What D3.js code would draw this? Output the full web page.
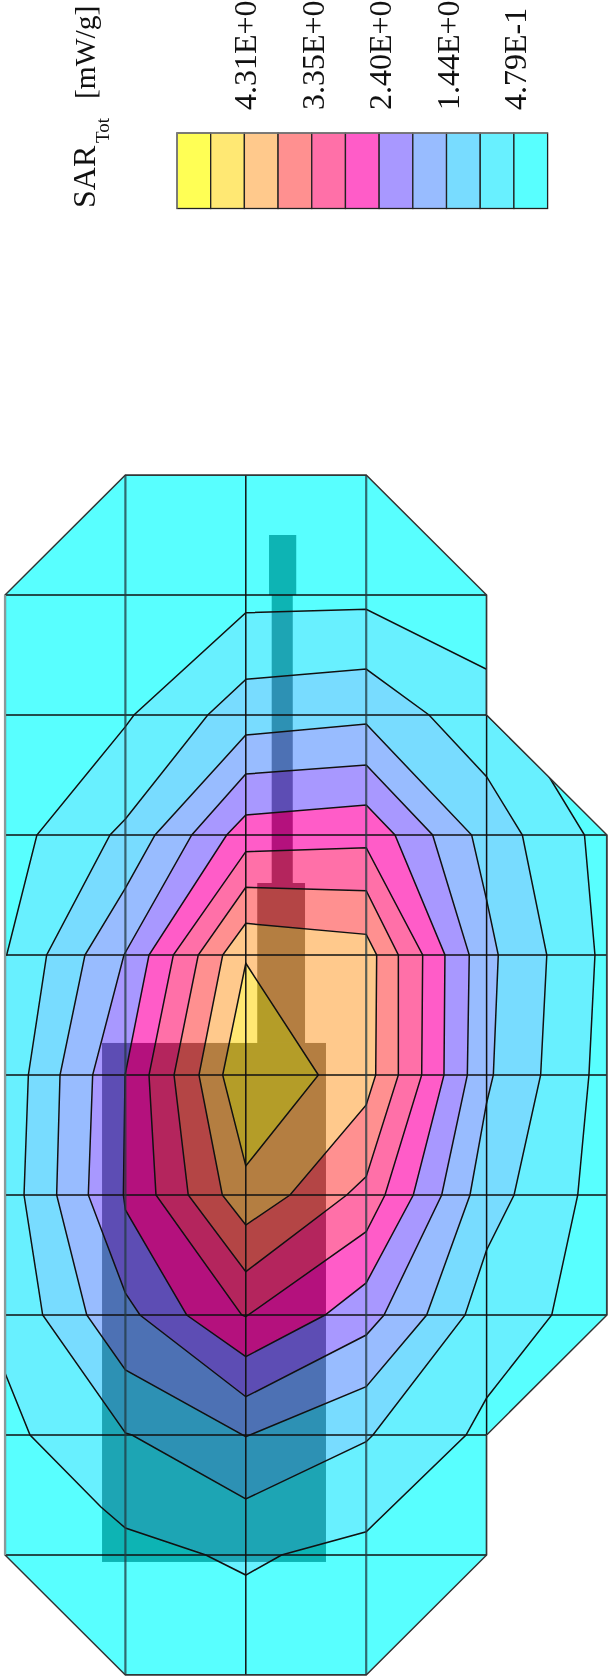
<!DOCTYPE html>
<html>
<head>
<meta charset="utf-8">
<script src="https://cdn.jsdelivr.net/npm/d3@7"></script>
<style>
  body { margin: 0; background: #fff; }
  text { font-family: "Liberation Serif", serif; fill: #111; }
</style>
</head>
<body>
<script>
// Colores de la leyenda, de mayor a menor SAR
const coloresLeyenda = ["#ffff55", "#ffe873", "#ffc98c", "#ff9090", "#ff70a8", "#ff5cc8",
  "#a898ff", "#98bcff", "#78dcff", "#68f0ff", "#58ffff"];
const etiquetasLeyenda = ["4.31E+0", "3.35E+0", "2.40E+0", "1.44E+0", "4.79E-1"];
const corteEtiquetas = [2, 4, 6, 8, 10];

// Malla de medida: columnas 0..5, filas 0..10
const columnas = [0, 1, 2, 3, 4, 5];
const filas = [0, 1, 2, 3, 4, 5, 6, 7, 8, 9, 10];

// Contorno exterior de la zona medida
const dominio = [[1, 0], [3, 0], [4, 1], [4, 2], [5, 3], [5, 7], [4, 8], [4, 9], [3, 10], [1, 10], [0, 9], [0, 1]];

// Isolíneas, de afuera hacia adentro, en unidades de la malla
const isoA = [[2, 1.148], [3, 1.119], [4, 1.619], [4, 2], [4.51, 2.5], [4.813, 3], [4.9, 4], [4.85, 5], [4.757, 6], [4.541, 7],
  [4, 7.692], [3.829, 8], [3, 8.806], [2.297, 9], [2, 9.167], [1.668, 9], [1, 8.775], [0.797, 8.6], [0.208, 8], [0, 7.483],
  [0, 4], [0.014, 4], [0.265, 3], [1, 2.097], [1.071, 2]];
const isoB = [[2, 1.703], [3, 1.617], [3.522, 2], [4, 2.514], [4.297, 3], [4.5, 4], [4.449, 5], [4.228, 6], [4, 6.458], [3.821, 7],
  [3.056, 8], [3, 8.056], [2, 8.533], [1.055, 8], [1, 7.983], [0.313, 7], [0.158, 6], [0.194, 5], [0.346, 4], [0.872, 3],
  [1, 2.867], [1.684, 2]];
const isoC = [[2, 2.167], [3, 2.075], [3.876, 3], [4, 3.54], [4.097, 4], [4.056, 5], [4, 5.233], [3.862, 6], [3.502, 7], [3, 7.597],
  [2, 8.014], [1, 7.458], [0.679, 7], [0.429, 6], [0.457, 5], [0.664, 4], [1, 3.442], [1.246, 3]];
const isoD = [[2, 2.492], [3, 2.417], [3.552, 3], [3.856, 4], [3.84, 5], [3.627, 6], [3.148, 7], [3, 7.167], [2, 7.681], [1.121, 7],
  [1, 6.817], [0.692, 6], [0.728, 5], [0.988, 4], [1.551, 3]];
const isoE = [[2, 2.833], [3, 2.75], [3.239, 3], [3.654, 4], [3.646, 5], [3.391, 6], [3, 6.733], [2.658, 7], [2, 7.347], [1.509, 7],
  [1, 6.125], [0.983, 6], [0.997, 5], [1.196, 4], [1.841, 3]];
const isoF = [[2, 3.139], [3, 3.106], [3.469, 4], [3.461, 5], [3.156, 6], [3, 6.306], [2, 7.014], [1.966, 7], [1.254, 6], [1.196, 5], [1.398, 4]];
const isoG = [[2, 3.436], [3, 3.464], [3.267, 4], [3.267, 5], [3, 5.847], [2.838, 6], [2, 6.639], [1.522, 6], [1.404, 5], [1.605, 4]];
const isoH = [[2, 3.736], [3, 3.828], [3.087, 4], [3.079, 5], [3, 5.25], [2.367, 6], [2, 6.25], [1.805, 6], [1.611, 5], [1.808, 4]];
const isoI = [[2, 4.069], [2.603, 5], [2, 5.758], [1.808, 5]];

// Cada isolínea va con el color que rellena su interior
const isolineas = [isoA, isoB, isoC, isoD, isoE, isoF, isoG, isoH, isoI];
const coloresIso = ["#68f0ff", "#78dcff", "#98bcff", "#a898ff", "#ff5cc8", "#ff70a8", "#ff9090", "#ffc98c", "#ffe873"];

// Placa superpuesta: [x0, x1, y0, y1] en unidades de la malla
const placa = [[2.193, 2.419, 0.5, 1], [2.215, 2.39, 1, 3.4], [2.095, 2.492, 3.4, 4.733], [0.806, 2.666, 4.733, 9.058]];

const svg = d3.select("body").append("svg").attr("width", 609).attr("height", 1679)
  .style("display", "block").style("filter", "blur(0.45px)");

const x = d3.scaleLinear().domain([0, 5]).range([5, 607]);
const y = d3.scaleLinear().domain([0, 10]).range([475, 1675]);
const linea = d3.line().x((d) => x(d[0])).y((d) => y(d[1])).curve(d3.curveLinearClosed);

// Leyenda
const xLeyenda = d3.scaleBand().domain(d3.range(coloresLeyenda.length)).range([177, 547.6]);
const leyenda = svg.append("g");
leyenda.selectAll("rect").data(coloresLeyenda).join("rect")
  .attr("x", (_, i) => xLeyenda(i))
  .attr("y", 133)
  .attr("width", xLeyenda.bandwidth())
  .attr("height", 75.5)
  .attr("fill", (d) => d)
  .attr("stroke", "#222")
  .attr("stroke-width", 1.3);

// Los bordes superior e izquierdo de la leyenda son más claros
leyenda.append("path")
  .attr("d", `M${xLeyenda(0)},208.5V133H547.6`)
  .attr("fill", "none")
  .attr("stroke", "#808080")
  .attr("stroke-width", 1.6);

leyenda.selectAll("text").data(etiquetasLeyenda).join("text")
  .attr("transform", (_, i) => `translate(${xLeyenda(corteEtiquetas[i]) + 12},110) rotate(-90)`)
  .attr("font-size", 32)
  .text((d) => d);

// Título rotado
const titulo = svg.append("g").attr("transform", "translate(95,208) rotate(-90)");
titulo.append("text").attr("font-size", 32).text("SAR");
titulo.append("text").attr("x", 65).attr("y", 14).attr("font-size", 19).text("Tot");
titulo.append("text").attr("x", 109).attr("font-size", 29.5).text("[mW/g]");

// Mapa: rellenos recortados al dominio
svg.append("clipPath").attr("id", "recorte").append("path").attr("d", linea(dominio));
const mapa = svg.append("g").style("isolation", "isolate");
mapa.append("path").attr("d", linea(dominio)).attr("fill", coloresLeyenda[10]);
const rellenos = mapa.append("g").attr("clip-path", "url(#recorte)");
rellenos.selectAll("path").data(isolineas).join("path")
  .attr("d", (d) => linea(d))
  .attr("fill", (_, i) => coloresIso[i]);

// La placa oscurece lo que tiene debajo
mapa.selectAll("rect").data(placa).join("rect")
  .attr("x", (d) => x(d[0]))
  .attr("y", (d) => y(d[2]))
  .attr("width", (d) => x(d[1]) - x(d[0]))
  .attr("height", (d) => y(d[3]) - y(d[2]))
  .attr("fill", "#4b4b4b")
  .style("mix-blend-mode", "difference");

// Trazos de las isolíneas
svg.append("g").attr("clip-path", "url(#recorte)").selectAll("path").data(isolineas).join("path")
  .attr("d", (d) => linea(d))
  .attr("fill", "none")
  .attr("stroke", "#111")
  .attr("stroke-width", 1.5);

// Malla
const malla = svg.append("g").attr("clip-path", "url(#recorte)");
malla.selectAll(".fila").data(filas).join("line").attr("class", "fila")
  .attr("x1", x(0)).attr("x2", x(5))
  .attr("y1", (d) => y(d)).attr("y2", (d) => y(d))
  .attr("stroke", "#111").attr("stroke-width", 1.5);
malla.selectAll(".columna").data(columnas).join("line").attr("class", "columna")
  .attr("x1", (d) => x(d)).attr("x2", (d) => x(d))
  .attr("y1", y(0)).attr("y2", y(10))
  .attr("stroke", (d) => (d === 2 || d === 4 ? "#111" : "#223a40"))
  .attr("stroke-opacity", (d) => (d === 2 || d === 4 ? 1 : 0.75))
  .attr("stroke-width", (d) => (d === 2 || d === 4 ? 1.5 : 2.2));

// Borde exterior; el lado izquierdo es gris
svg.append("path").attr("d", linea(dominio)).attr("fill", "none").attr("stroke", "#333").attr("stroke-width", 1.5);
svg.append("line")
  .attr("x1", x(0)).attr("x2", x(0))
  .attr("y1", y(1)).attr("y2", y(9))
  .attr("stroke", "#8a9a9a").attr("stroke-width", 2.2);
</script>
</body>
</html>
